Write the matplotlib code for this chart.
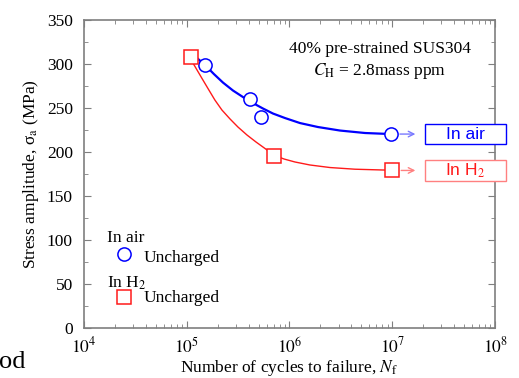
import matplotlib
matplotlib.use('Agg')
import matplotlib.pyplot as plt
from matplotlib.patches import Rectangle
from matplotlib.ticker import LogLocator, MultipleLocator, FixedFormatter, FixedLocator

plt.rcParams['font.family'] = ['Liberation Serif', 'DejaVu Serif']
plt.rcParams['mathtext.fontset'] = 'stix'

# measured data (cycles to failure, stress amplitude)
air_N = [1.505e5, 4.13e5, 5.25e5, 9.7e6]
air_S = [299, 260, 240, 220.5]
h2_N = [1.09e5, 7.06e5, 9.9e6]
h2_S = [308, 196, 180]

# fitted curves
air_curve_N = [1.26e5, 1.505e5, 1.84e5, 2.25e5, 2.82e5, 3.53e5, 4.41e5, 5.52e5, 6.91e5,
               9.04e5, 1.265e6, 1.89e6, 3.10e6, 5.43e6, 9.72e6]
air_curve_S = [306.8, 298.9, 288.6, 279.0, 269.9, 262.5, 255.7, 249.5, 243.8,
               238.7, 233.0, 228.5, 224.5, 221.7, 220.5]
h2_curve_N = [1.15e5, 1.26e5, 1.41e5, 1.61e5, 1.88e5, 2.20e5, 2.64e5, 3.15e5, 3.86e5, 4.72e5,
              5.78e5, 7.06e5, 8.84e5, 1.13e6, 1.58e6, 2.48e6, 4.34e6, 8.13e6, 9.94e6]
h2_curve_S = [301.1, 293.2, 283.5, 272.2, 259.1, 247.8, 237.6, 228.5, 219.4, 211.5,
              204.1, 196.5, 192.2, 188.8, 185.4, 182.5, 180.6, 179.7, 179.7]

xtick_vals = [1e4, 1e5, 1e6, 1e7, 1e8]
xtick_labels = ['$10^4$', '$10^5$', '$10^6$', '$10^7$', '$10^8$']

blue = '#0000ff'
red = '#ff1a1a'
light_blue = '#7a7aff'
light_red = '#ff8080'
gray = '#7f7f7f'

fig = plt.figure(figsize=(5.19, 3.78), dpi=100)
ax = fig.add_axes([0.1618, 0.1315, 0.792, 0.8156])

ax.plot(air_curve_N, air_curve_S, color=blue, lw=1.6, zorder=2)
ax.plot(h2_curve_N, h2_curve_S, color=red, lw=1.0, zorder=2)
ax.plot(air_N, air_S, 'o', ms=9.5, mfc='white', mec=blue, mew=1.1, zorder=3)
ax.plot(h2_N, h2_S, 's', ms=9.5, mfc='white', mec=red, mew=1.1, zorder=3)

ax.set_xscale('log')
ax.set_xlim(1e4, 1e8)
ax.set_ylim(0, 350)
ax.xaxis.set_major_locator(FixedLocator(xtick_vals))
ax.xaxis.set_major_formatter(FixedFormatter(xtick_labels))
ax.xaxis.set_minor_locator(LogLocator(base=10, subs=range(2, 10), numticks=20))
ax.yaxis.set_major_locator(MultipleLocator(50))
ax.yaxis.set_minor_locator(MultipleLocator(25))
ax.tick_params(which='both', direction='in', top=True, right=True, color=gray,
               labelsize=12.5)
ax.tick_params(axis='x', pad=6)
ax.tick_params(axis='y', pad=8)
ax.tick_params(which='major', length=5)
ax.tick_params(which='minor', length=3)
for s in ax.spines.values():
    s.set_color(gray)
    s.set_linewidth(1.2)

ax.set_xlabel('Number of cycles to failure, $N_{\\rm f}$', fontsize=12.5, labelpad=1)
ax.set_ylabel('Stress amplitude, σ$_{\\rm a}$ (MPa)', fontsize=12.5, labelpad=4)

ax.text(0.72, 0.905, '40% pre-strained SUS304', transform=ax.transAxes,
        ha='center', va='center', fontsize=12.5)
ax.text(0.72, 0.835, '$C_{\\rm H}$ = 2.8mass ppm', transform=ax.transAxes,
        ha='center', va='center', fontsize=12.5)

# arrows and labelled boxes on the right
ax.annotate('', xy=(0.813, 0.630), xytext=(0.762, 0.630), xycoords='axes fraction',
            arrowprops=dict(arrowstyle='->', color=light_blue, lw=1.0))
ax.annotate('', xy=(0.813, 0.512), xytext=(0.765, 0.512), xycoords='axes fraction',
            arrowprops=dict(arrowstyle='->', color=light_red, lw=1.0))
ax.add_patch(Rectangle((0.8297, 0.598), 0.197, 0.065, transform=ax.transAxes,
                       fc='white', ec=blue, lw=1.0, clip_on=False, zorder=5))
ax.add_patch(Rectangle((0.8297, 0.478), 0.197, 0.068, transform=ax.transAxes,
                       fc='white', ec=light_red, lw=1.0, clip_on=False, zorder=5))
ax.text(0.928, 0.630, 'In air', transform=ax.transAxes, ha='center', va='center',
        color=blue, fontsize=12.5, family=['Liberation Sans'], zorder=6)
ax.text(0.928, 0.510, 'In H$_2$', transform=ax.transAxes, ha='center', va='center',
        color=red, fontsize=12.5, family=['Liberation Sans'], zorder=6)

# legend drawn by hand
ax.text(0.056, 0.293, 'In air', transform=ax.transAxes, ha='left', va='center', fontsize=12.5)
ax.plot([0.097], [0.241], 'o', ms=9.5, mfc='white', mec=blue, mew=1.1,
        transform=ax.transAxes, clip_on=False)
ax.text(0.144, 0.228, 'Uncharged', transform=ax.transAxes, ha='left', va='center', fontsize=12.5)
ax.text(0.056, 0.147, 'In H$_2$', transform=ax.transAxes, ha='left', va='center', fontsize=12.5)
ax.plot([0.097], [0.102], 's', ms=9.5, mfc='white', mec=red, mew=1.1,
        transform=ax.transAxes, clip_on=False)
ax.text(0.144, 0.098, 'Uncharged', transform=ax.transAxes, ha='left', va='center', fontsize=12.5)

# fragment of neighbouring text cut by the crop
fig.text(25 / 519, 10 / 378, 'od', ha='right', va='baseline', fontsize=19)

fig.savefig('out.png', dpi=100)
plt.close(fig)
